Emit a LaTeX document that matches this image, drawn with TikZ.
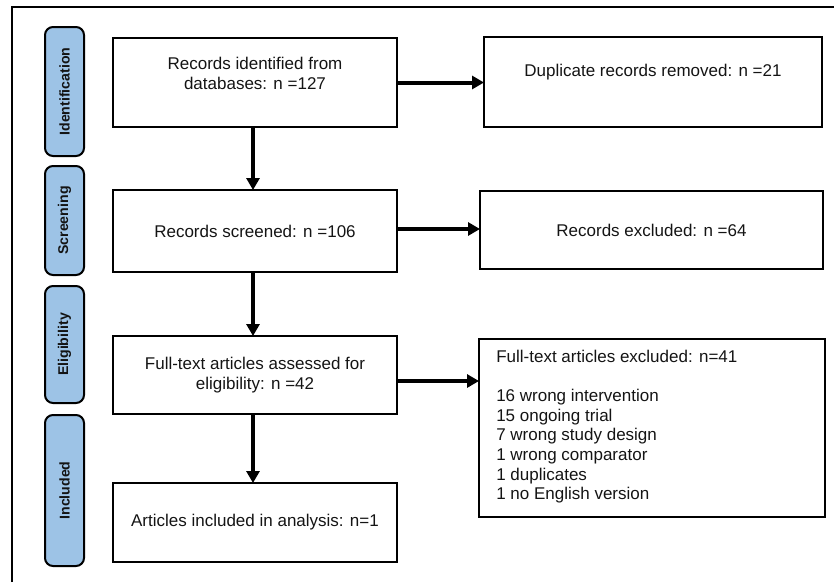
\documentclass[tikz,border=0pt]{standalone}
\usepackage{fontspec}
\setmainfont{Liberation Sans}
\usetikzlibrary{arrows.meta,calc}
\definecolor{phase}{RGB}{157,195,230}
\definecolor{ink}{RGB}{20,20,20}
\begin{document}
\begin{tikzpicture}[x=0.75pt,y=-0.75pt,
  box/.style 2 args={draw=black, line width=1.6pt, minimum width=#1*0.75pt, minimum height=#2*0.75pt,
    inner sep=0pt, outer sep=0pt, align=center, font=\fontsize{12.75}{15}\selectfont, text=ink},
  phasebox/.style={draw=black, line width=1.5pt, fill=phase, rounded corners=6pt, rotate=90,
    minimum width=#1*0.75pt, minimum height=39*0.75pt, inner sep=0pt,
    font=\bfseries\fontsize{10.6}{12}\selectfont, text=ink},
  txt/.style={align=center, inner sep=0pt, font=\fontsize{12.75}{15}\selectfont, text=ink},
  flow/.style={line width=3pt, -{Triangle[length=9pt,width=9.75pt]}},
  frameline/.style={line width=1.1pt, draw=black}
]
\useasboundingbox (0,0) rectangle (834,582);

% outer frame (partly cropped)
\coordinate (fbl) at (12,582);
\coordinate (ftl) at (12,7);
\coordinate (ftr) at (834,7);
\draw[frameline] (fbl) -- (ftl) -- (ftr);

% phase labels
\node[phasebox=129] (pid) at (64.5,91.5) {Identification};
\node[phasebox=109] (psc) at (64.5,220.5) {Screening};
\node[phasebox=117] (pel) at (64.5,344.5) {Eligibility};
\node[phasebox=151] (pin) at (64.5,490.5) {Included};

% main boxes
\node[box={284}{89}] (b1) at (255,82.5) {};
\node[txt] (b1t) at (255,73) {Records identified from\\databases: n =127};
\node[box={338}{90}] (dup) at (653,82) {};
\node[txt] (dupt) at (653,72) {Duplicate records removed: n =21};

\node[box={284}{82}] (b2) at (255,231) {Records screened: n =106};
\node[box={343}{78}] (ex1) at (651.5,230) {Records excluded: n =64};

\node[box={284}{78}] (b3) at (255,375) {Full-text articles assessed for\\eligibility: n =42};
\node[box={346}{178}] (ex2) at (652,428) {};
\node[txt, align=left, anchor=north west, font=\fontsize{12.75}{14.7}\selectfont] (ex2t) at (496,350)
  {Full-text articles excluded: n=41\\[14.7pt]
   16 wrong intervention\\
   15 ongoing trial\\
   7 wrong study design\\
   1 wrong comparator\\
   1 duplicates\\
   1 no English version};

\node[box={284}{79}] (b4) at (255,522.5) {Articles included in analysis: n=1};

% connectors
\draw[flow] ([xshift=-1.5pt]b1.south) -- ([xshift=-1.5pt]b2.north);
\draw[flow] ([xshift=-1.5pt]b2.south) -- ([xshift=-1.5pt]b3.north);
\draw[flow] ([xshift=-1.5pt]b3.south) -- ([xshift=-1.5pt]b4.north);
\draw[flow] (b1.east) -- (b1.east -| dup.west);
\draw[flow] ([yshift=1.5pt]b2.east) -- ([yshift=1.5pt]b2.east -| ex1.west);
\draw[flow] ([yshift=-4.5pt]b3.east) -- ([yshift=-4.5pt]b3.east -| ex2.west);
\end{tikzpicture}
\end{document}
